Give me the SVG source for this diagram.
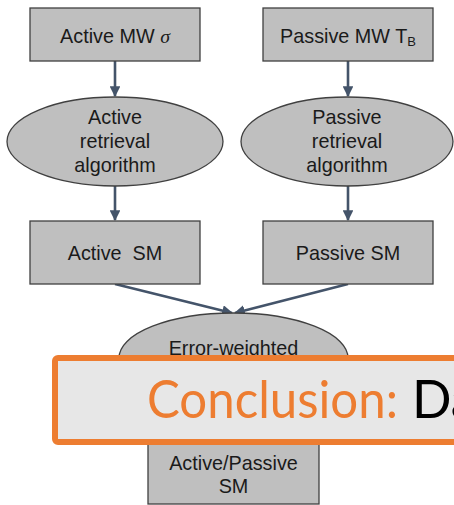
<svg xmlns="http://www.w3.org/2000/svg" width="454" height="505" viewBox="0 0 454 505">
<style>
.n{fill:#bfbfbf;stroke:#404040;stroke-width:1.3}
.t{font-family:"Liberation Sans",Arial,sans-serif;font-size:19.8px;fill:#1a1a1a;text-anchor:middle}
.c{stroke:#44546a;stroke-width:2.6;fill:none;marker-end:url(#ah)}
</style>
<defs>
<marker id="ah" viewBox="0 0 10 10" refX="9" refY="5" markerWidth="4.2" markerHeight="4.2" orient="auto" markerUnits="strokeWidth">
<path d="M0,0 L10,5 L0,10 z" fill="#44546a"/>
</marker>
</defs>
<rect width="454" height="505" fill="#ffffff"/>
<g id="connectors">
<line class="c" x1="115" y1="61" x2="115" y2="96"/>
<line class="c" x1="348" y1="61" x2="348" y2="96"/>
<line class="c" x1="115" y1="186" x2="115" y2="220"/>
<line class="c" x1="348" y1="186" x2="348" y2="220"/>
<line class="c" x1="115" y1="284" x2="232" y2="313"/>
<line class="c" x1="348" y1="284" x2="235" y2="313"/>
</g>
<g id="active-mw">
<rect class="n" x="30" y="8" width="170" height="53"/>
<text class="t" x="115" y="43">Active MW <tspan font-family="'Liberation Serif',serif" font-style="italic">σ</tspan></text>
</g>
<g id="passive-mw">
<rect class="n" x="263" y="8" width="170" height="53"/>
<text class="t" x="348" y="43">Passive MW T<tspan font-size="13" dy="3">B</tspan></text>
</g>
<g id="active-alg">
<ellipse class="n" cx="115" cy="141.5" rx="108" ry="44.5"/>
<text class="t" x="115" y="124">Active</text>
<text class="t" x="115" y="148">retrieval</text>
<text class="t" x="115" y="172">algorithm</text>
</g>
<g id="passive-alg">
<ellipse class="n" cx="347" cy="141.5" rx="106" ry="44.5"/>
<text class="t" x="347" y="124">Passive</text>
<text class="t" x="347" y="148">retrieval</text>
<text class="t" x="347" y="172">algorithm</text>
</g>
<g id="active-sm">
<rect class="n" x="30" y="221" width="170" height="63"/>
<text class="t" x="115" y="260" xml:space="preserve">Active  SM</text>
</g>
<g id="passive-sm">
<rect class="n" x="263" y="221" width="170" height="63"/>
<text class="t" x="348" y="260">Passive SM</text>
</g>
<g id="error-weighted">
<ellipse class="n" cx="233.5" cy="358" rx="114.5" ry="45"/>
<text class="t" x="233.5" y="355" font-size="17">Error-weighted</text>
</g>
<g id="combined-sm">
<rect class="n" x="148" y="420" width="171" height="84"/>
<text class="t" x="233.5" y="470">Active/Passive</text>
<text class="t" x="233.5" y="493">SM</text>
</g>
<g id="conclusion">
<rect x="55" y="358" width="410" height="84" rx="3" fill="#e7e7e7" stroke="#ed7d31" stroke-width="6"/>
<text x="147" y="418" font-family="Lato,'Open Sans',sans-serif" font-size="52" fill="#ed7d31" textLength="251" lengthAdjust="spacingAndGlyphs">Conclusion:</text>
<text x="412" y="418" font-family="Lato,'Open Sans',sans-serif" font-size="52" fill="#000000">Da</text>
</g>
</svg>
